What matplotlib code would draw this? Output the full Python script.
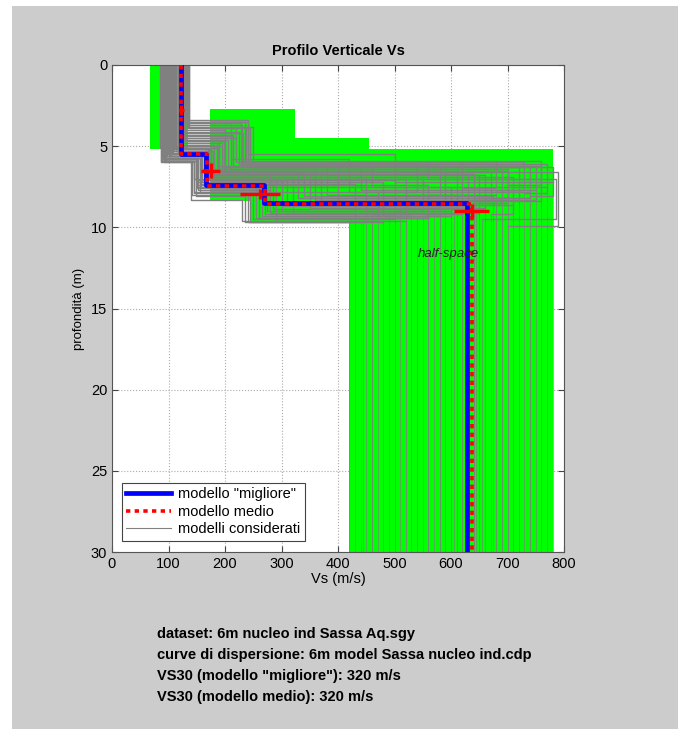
import numpy as np
import matplotlib
matplotlib.use('Agg')
import matplotlib.pyplot as plt
from matplotlib.patches import Rectangle

plt.rcParams['font.family'] = ['Liberation Sans', 'DejaVu Sans']

## considered models: interface depths (m) and Vs of each layer (m/s), last = half-space
z1 = [5.2, 5.6, 4.8, 5.9, 3.6, 4.2, 5.4, 6.0, 5.0, 5.3, 3.4, 5.7, 4.5, 5.5, 4.9, 5.8,
      4.0, 5.1, 5.6, 4.6, 5.9, 5.3, 3.8, 5.4, 5.0, 6.0, 4.4, 5.2, 5.7, 4.7, 5.5, 5.1,
      3.5, 5.6, 4.1, 5.3, 5.8, 3.9, 5.5, 4.3, 5.9, 3.7, 5.7, 4.8, 5.2, 3.5, 5.8, 5.4,
      4.6, 5.0, 5.9, 3.6, 5.5, 4.4, 5.7, 3.9, 5.8, 5.1, 4.2, 5.4, 5.6, 4.7, 5.9, 3.8]
z2 = [6.8, 7.2, 6.5, 7.6, 5.8, 6.2, 7.0, 7.9, 6.6, 7.4, 5.5, 7.8, 6.0, 7.3, 6.9, 8.1,
      6.3, 7.0, 7.5, 6.4, 8.3, 7.1, 6.1, 7.6, 6.7, 8.0, 6.2, 7.3, 7.7, 6.6, 6.6, 7.0,
      6.0, 6.4, 6.1, 6.8, 7.2, 6.3, 6.5, 6.2, 7.0, 6.0, 6.6, 6.3, 6.9, 6.1, 7.4, 6.7,
      6.5, 6.2, 7.1, 5.9, 6.8, 6.4, 7.3, 6.0, 7.5, 6.6, 6.3, 7.0, 6.9, 6.5, 7.8, 6.2]
z3 = [8.6, 9.0, 8.2, 9.4, 7.8, 8.0, 9.6, 9.7, 8.8, 9.2, 7.2, 9.5, 8.4, 8.9, 9.1, 9.7,
      7.5, 8.7, 9.3, 8.3, 9.6, 8.5, 7.0, 9.0, 8.1, 9.7, 7.7, 9.4, 9.1, 8.6, 9.9, 9.5,
      8.0, 8.5, 7.8, 8.9, 9.3, 8.2, 8.7, 8.4, 9.1, 7.6, 8.8, 8.3, 9.0, 7.9, 9.4, 8.6,
      8.2, 8.0, 9.2, 7.4, 8.9, 8.5, 9.5, 7.7, 9.3, 8.4, 8.1, 9.0, 9.2, 8.7, 9.6, 8.3]
v1 = [120, 104, 125, 96, 132, 128, 99, 92, 122, 107, 136, 94, 127, 101, 124, 90,
      130, 112, 97, 126, 88, 109, 134, 118, 103, 86, 129, 120, 95, 125, 93, 85,
      131, 98, 127, 114, 91, 133, 106, 124, 89, 129, 100, 126, 110, 135, 93, 116,
      128, 105, 87, 132, 118, 125, 96, 137, 91, 123, 130, 108, 102, 127, 94, 134]
v2 = [170, 160, 185, 150, 210, 230, 175, 145, 195, 165, 240, 155, 220, 168, 180, 148,
      200, 172, 162, 190, 140, 178, 250, 158, 188, 142, 215, 166, 152, 198, 170, 175,
      235, 160, 225, 180, 150, 245, 170, 215, 145, 230, 155, 195, 175, 240, 150, 165,
      205, 185, 148, 228, 172, 210, 158, 220, 152, 190, 232, 168, 162, 200, 146, 238]
v3 = [280, 300, 330, 260, 420, 380, 290, 240, 350, 270, 500, 250, 400, 285, 320, 235,
      460, 300, 265, 360, 230, 310, 560, 275, 340, 245, 440, 255, 280, 370, 790, 785,
      620, 700, 540, 660, 480, 740, 590, 760, 520, 680, 610, 720, 450, 770, 560, 640,
      700, 580, 500, 760, 650, 690, 430, 730, 600, 670, 780, 550, 710, 630, 470, 750]
v4 = [640, 600, 700, 560, 740, 680, 520, 480, 660, 620, 780, 500, 720, 610, 650, 440,
      770, 630, 580, 690, 460, 645, 760, 590, 675, 420, 750, 540, 605, 710, 700, 655,
      560, 640, 470, 600, 530, 690, 510, 720, 450, 620, 570, 660, 490, 730, 540, 580,
      640, 520, 460, 700, 600, 650, 430, 680, 550, 610, 740, 500, 670, 590, 445, 710]

## envelope of the considered models (green): Vs min, Vs max, top, bottom
env_vmin = [68, 173, 324, 455, 244, 420]
env_vmax = [135, 324, 455, 780, 455, 780]
env_ztop = [0, 2.7, 4.5, 5.2, 8.4, 9.7]
env_zbot = [5.2, 8.4, 8.4, 9.7, 9.7, 30]

## best and mean model
best_z = [5.5, 7.4, 8.5]
best_v = [122, 166, 269, 628]
mean_z = [5.5, 7.45, 8.55]
mean_v = [123, 168, 271, 638]

## mean model error crosses
err_v = [123, 175, 262, 637]
err_z = [2.75, 6.5, 7.95, 9.0]
err_dv = [5, 17, 35, 31]
err_dz = [0.3, 0.45, 0.3, 0.45]

info = ['dataset: 6m nucleo ind Sassa Aq.sgy',
        'curve di dispersione: 6m model Sassa nucleo ind.cdp',
        'VS30 (modello "migliore"): 320 m/s',
        'VS30 (modello medio): 320 m/s']

def profile(z, v):
    zz = np.concatenate(([0.], np.repeat(z, 2)))
    vv = np.repeat(v[:-1], 2)
    vv = np.append(vv, v[-1])
    return vv, zz

W, H = 678, 729
fig = plt.figure(figsize=(W/100., H/100.), dpi=100)
fig.patch.set_facecolor('white')
fig.patches.append(Rectangle((12./W, 0), 1, 1 - 6./H, transform=fig.transFigure,
                             facecolor='#cccccc', edgecolor='none', zorder=-10))

ax = fig.add_axes([112./W, 1 - 552./H, (564.-112.)/W, (552.-65.)/H])
ax.set_facecolor('white')

for a, b, t, u in zip(env_vmin, env_vmax, env_ztop, env_zbot):
    ax.fill_betweenx([t, u], a, b, color='#00ff00', lw=0, zorder=1)

for i in range(len(v1)):
    x, y = profile([z1[i], z2[i], z3[i]], [v1[i], v2[i], v3[i], v4[i]])
    ax.plot(x, y, color='#808080', lw=1.0, zorder=2)
    # half-space part, thinner
    ax.plot([v4[i], v4[i]], [z3[i], 30], color='#808080', lw=0.45, zorder=2)
# legend handle only
ax.plot([], [], color='#808080', lw=0.8, label='modelli considerati')

x, y = profile(best_z, best_v)
ax.plot(np.append(x, best_v[-1]), np.append(y, 30), color='#0000ff', lw=3.4, zorder=3,
        label='modello "migliore"')
x, y = profile(mean_z, mean_v)
ax.plot(np.append(x, mean_v[-1]), np.append(y, 30), color='#ff0000', lw=2.6,
        ls=(0, (1.2, 1.2)), zorder=4, label='modello medio')
ax.errorbar(err_v, err_z, xerr=err_dv, yerr=err_dz, fmt='none', ecolor='#ff0000',
            elinewidth=2.4, capsize=0, zorder=5)

ax.text(542, 11.8, 'half-space', fontsize=9.5, style='italic', color='#222222', zorder=6)

ax.set_xlim(0, 800)
ax.set_ylim(30, 0)
ax.set_xticks(range(0, 801, 100))
ax.set_yticks(range(0, 31, 5))
ax.tick_params(direction='in', top=True, right=True, labelsize=10.5, length=4, color='#444444')
ax.grid(True, ls=':', color='#aaaaaa', lw=0.8)
ax.set_axisbelow(True)
for s in ax.spines.values():
    s.set_color('#555555')
ax.set_xlabel('Vs (m/s)', fontsize=10.5, labelpad=1)
ax.set_ylabel('profondità (m)', fontsize=9.5, labelpad=4)
ax.set_title('Profilo Verticale Vs', fontsize=10.5, fontweight='bold', pad=7)

h, l = ax.get_legend_handles_labels()
order = [l.index('modello "migliore"'), l.index('modello medio'), l.index('modelli considerati')]
leg = ax.legend([h[k] for k in order], [l[k] for k in order], loc='lower left',
                fontsize=10.5, fancybox=False, framealpha=1, edgecolor='#444444',
                handlelength=3.1, borderpad=0.3, labelspacing=0.25, handletextpad=0.5,
                bbox_to_anchor=(0.005, 0.008))
leg.get_frame().set_linewidth(0.8)

for k, s in enumerate(info):
    fig.text(157./W, 1 - (634. + k*21.)/H, s, fontsize=10.5, fontweight='bold', va='center')

fig.savefig('out.png', dpi=100, facecolor=fig.get_facecolor())
